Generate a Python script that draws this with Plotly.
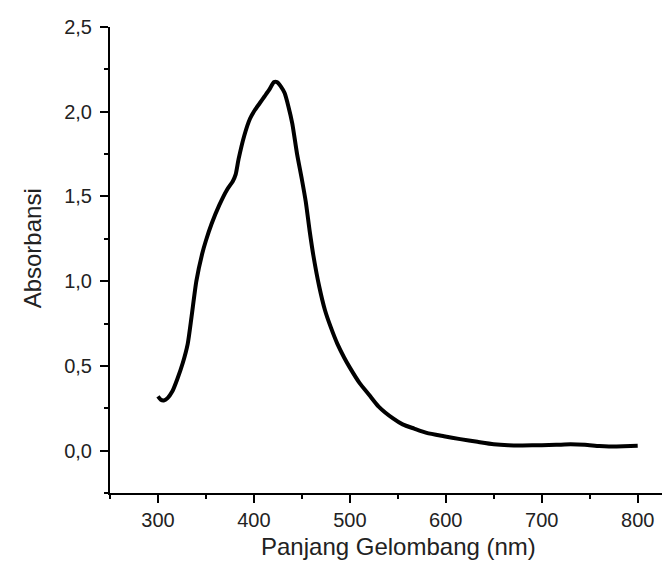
import plotly.graph_objects as go

# Wavelength (nm) and absorbance
wavelength = [300, 303, 306, 310, 315, 320, 326, 331, 335, 340, 346, 350, 356, 364,
              372, 378, 381, 384, 390, 396, 401, 406, 411, 416, 421, 424, 428, 432,
              436, 440, 445, 450, 454, 458, 462, 468, 474, 480, 487, 494, 500, 510,
              520, 530, 545, 555, 567, 580, 598, 615, 633, 650, 665, 680, 700, 715,
              730, 745, 760, 770, 785, 800]
absorbance = [0.32, 0.30, 0.296, 0.31, 0.35, 0.42, 0.52, 0.63, 0.79, 1.0, 1.16, 1.24,
              1.34, 1.45, 1.54, 1.59, 1.63, 1.72, 1.86, 1.96, 2.01, 2.05, 2.09, 2.13,
              2.175, 2.175, 2.15, 2.11, 2.03, 1.93, 1.75, 1.60, 1.47, 1.30, 1.15, 0.97,
              0.83, 0.73, 0.63, 0.55, 0.49, 0.40, 0.33, 0.26, 0.19, 0.155, 0.13, 0.105,
              0.085, 0.068, 0.052, 0.038, 0.032, 0.031, 0.032, 0.034, 0.037, 0.034,
              0.027, 0.025, 0.026, 0.029]

x_title = "Panjang Gelombang (nm)"
y_title = "Absorbansi"
x_ticks = [300, 400, 500, 600, 700, 800]
y_ticks = [0.0, 0.5, 1.0, 1.5, 2.0, 2.5]

FONT = "Liberation Sans, Arial, sans-serif"

fig = go.Figure()
fig.add_trace(go.Scatter(
    x=wavelength, y=absorbance, mode="lines",
    line=dict(color="black", width=4, shape="spline", smoothing=0.6),
    showlegend=False, hoverinfo="skip"))

axis_common = dict(
    showline=True, linecolor="black", linewidth=2, mirror=False,
    showgrid=False, zeroline=False,
    ticks="outside", ticklen=8, tickwidth=1.5, tickcolor="black",
    tickfont=dict(family=FONT, size=20, color="#222"),
)

fig.update_xaxes(
    range=[250, 842], tickvals=x_ticks,
    minor=dict(ticks="outside", ticklen=4, tickwidth=1.5, tickcolor="black", dtick=50, tick0=250),
    **axis_common)
fig.update_yaxes(
    range=[-0.25, 2.5], tickvals=y_ticks, tickformat=".1f", ticklabelstandoff=4,
    minor=dict(ticks="outside", ticklen=4, tickwidth=1.5, tickcolor="black", dtick=0.25, tick0=0),
    **axis_common)

fig.add_annotation(
    text=x_title, xref="paper", yref="paper", x=(390 - 102) / (670 - 102),
    y=-(539 - 485.5) / (485.5 - 19), xanchor="center", yanchor="middle",
    showarrow=False, font=dict(family=FONT, size=24, color="#222"))
fig.add_annotation(
    text=y_title, xref="paper", yref="paper", x=-(102 - 24) / (670 - 102),
    y=(485.5 - 240.6) / (485.5 - 19), xanchor="center", yanchor="middle",
    textangle=-90, showarrow=False, font=dict(family=FONT, size=24, color="#222"))

fig.update_layout(
    width=670, height=561,
    margin=dict(l=102, r=0, t=19, b=75.5, autoexpand=False),
    paper_bgcolor="white", plot_bgcolor="white",
    separators=",.",
    font=dict(family=FONT, color="#222"),
)

fig.write_html("out.html")
